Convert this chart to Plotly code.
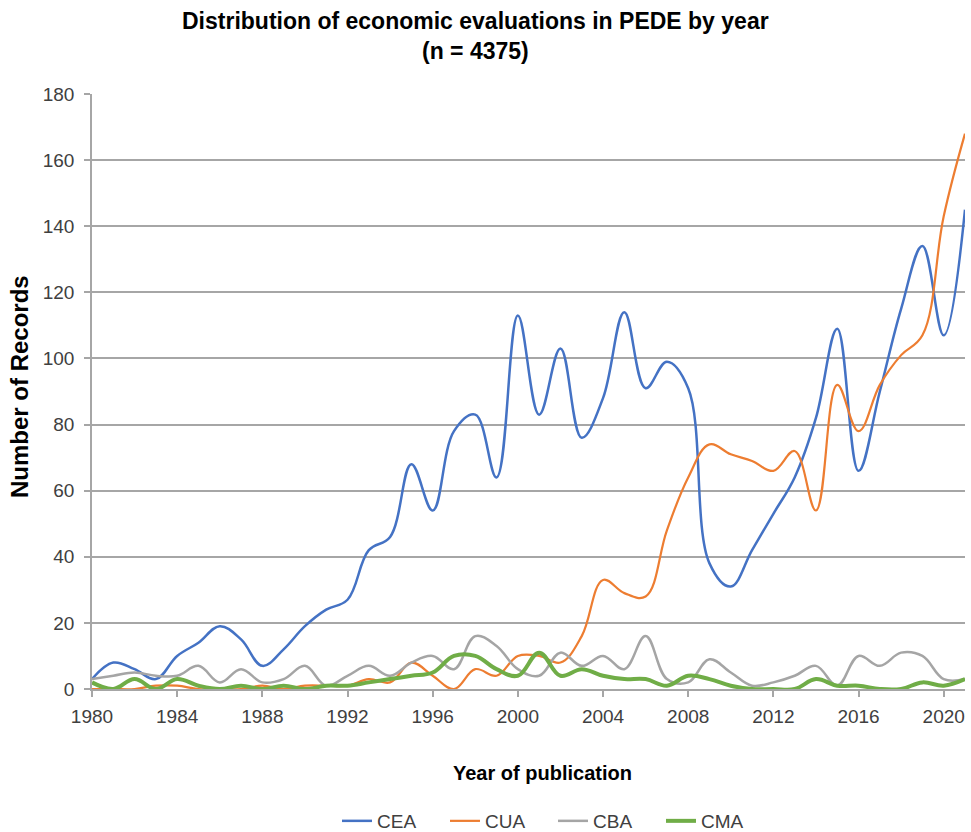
import plotly.graph_objects as go

years = [1980, 1981, 1982, 1983, 1984, 1985, 1986, 1987, 1988, 1989,
         1990, 1991, 1992, 1993, 1994, 1995, 1996, 1997, 1998, 1999,
         2000, 2001, 2002, 2003, 2004, 2005, 2006, 2007, 2008, 2009,
         2010, 2011, 2012, 2013, 2014, 2015, 2016, 2017, 2018, 2019,
         2020, 2021]

cea = [3, 8, 6, 3, 10, 14, 19, 15, 7, 12,
       19, 24, 27, 42, 46, 68, 54, 78, 83, 64,
       113, 83, 103, 76, 88, 114, 91, 99, 91, 38,
       31, 42, 53, 64, 82, 109, 66, 90, 115, 134,
       107, 145]
cua = [0, 0, 0, 1, 1, 0, 0, 0, 1, 0,
       1, 1, 1, 3, 2, 8, 4, 0, 6, 4,
       10, 10, 8, 16, 33, 29, 28, 48, 64, 74,
       71, 69, 66, 72, 54, 92, 78, 92, 101, 107,
       143, 168]
cba = [3, 4, 5, 4, 4, 7, 2, 6, 2, 3,
       7, 1, 4, 7, 4, 8, 10, 6, 16, 13,
       6, 4, 11, 7, 10, 6, 16, 3, 2, 9,
       5, 1, 2, 4, 7, 1, 10, 7, 11, 10,
       3, 3]
cma = [2, 0, 3, 0, 3, 1, 0, 1, 0, 1,
       0, 1, 1, 2, 3, 4, 5, 10, 10, 6,
       4, 11, 4, 6, 4, 3, 3, 1, 4, 3,
       1, 0, 0, 0, 3, 1, 1, 0, 0, 2,
       1, 3]

series_names = ["CEA", "CUA", "CBA", "CMA"]
series_values = [cea, cua, cba, cma]
series_colors = ["#4472C4", "#ED7D31", "#A5A5A5", "#70AD47"]
series_widths = [2.5, 2.2, 2.5, 4]

x_ticks = [1980, 1984, 1988, 1992, 1996, 2000, 2004, 2008, 2012, 2016, 2020]
y_ticks = [0, 20, 40, 60, 80, 100, 120, 140, 160, 180]

title_line1 = "Distribution of economic evaluations in PEDE by year"
title_line2 = "(n = 4375)"
x_title = "Year of publication"
y_title = "Number of Records"

FONT = "Liberation Sans, Arial, sans-serif"

fig = go.Figure()
for name, vals, col, w in zip(series_names, series_values, series_colors, series_widths):
    fig.add_trace(go.Scatter(
        x=years, y=vals, name=name, mode="lines",
        line=dict(color=col, width=w, shape="spline", smoothing=1.1),
    ))

fig.update_layout(
    width=971, height=832, autosize=False,
    margin=dict(l=92, r=6, t=94, b=143),
    paper_bgcolor="white", plot_bgcolor="white",
    font=dict(family=FONT, color="#404040"),
    showlegend=True,
    legend=dict(
        orientation="h", xref="container", yref="container",
        x=0.5695, xanchor="center", y=(832 - 821) / 832, yanchor="middle",
        font=dict(size=19, color="#404040"),
        entrywidth=63, entrywidthmode="pixels",
        tracegroupgap=0, itemwidth=30,
    ),
    annotations=[
        dict(text="<b>" + title_line1 + "</b>", xref="paper", yref="paper",
             x=(475 - 92) / 873, y=(689 - 21) / 595, xanchor="center", yanchor="middle",
             showarrow=False, font=dict(size=23, color="black", family=FONT)),
        dict(text="<b>" + title_line2 + "</b>", xref="paper", yref="paper",
             x=(475 - 92) / 873, y=(689 - 51) / 595, xanchor="center", yanchor="middle",
             showarrow=False, font=dict(size=23, color="black", family=FONT)),
        dict(text="<b>" + x_title + "</b>", xref="paper", yref="paper",
             x=(542 - 92) / 873, y=(689 - 773) / 595, xanchor="center", yanchor="middle",
             showarrow=False, font=dict(size=20, color="black", family=FONT)),
        dict(text="<b>" + y_title + "</b>", xref="paper", yref="paper",
             x=(19 - 92) / 873, y=(689 - 387) / 595, xanchor="center", yanchor="middle",
             textangle=-90, showarrow=False, font=dict(size=24, color="black", family=FONT)),
    ],
)

fig.update_xaxes(
    range=[1980, 2021], tickmode="array", tickvals=x_ticks,
    ticktext=[str(t) for t in x_ticks],
    showgrid=False, zeroline=False,
    showline=True, linecolor="#A6A6A6", linewidth=1.5,
    ticks="outside", ticklen=6, tickcolor="#A6A6A6", tickwidth=1.5,
    tickfont=dict(size=19, color="#404040"),
    ticklabelstandoff=3,
)
fig.update_yaxes(
    range=[0, 180], tickmode="array", tickvals=y_ticks,
    showgrid=True, gridcolor="#A6A6A6", gridwidth=1.5,
    zeroline=False,
    showline=True, linecolor="#A6A6A6", linewidth=1.5,
    ticks="outside", ticklen=6, tickcolor="#A6A6A6", tickwidth=1.5,
    tickfont=dict(size=19, color="#404040"),
    ticklabelstandoff=6,
)

fig.write_html(
    "out.html",
    config={"displayModeBar": False},
    post_script="document.body.style.margin='0';document.body.style.overflow='hidden';",
)
